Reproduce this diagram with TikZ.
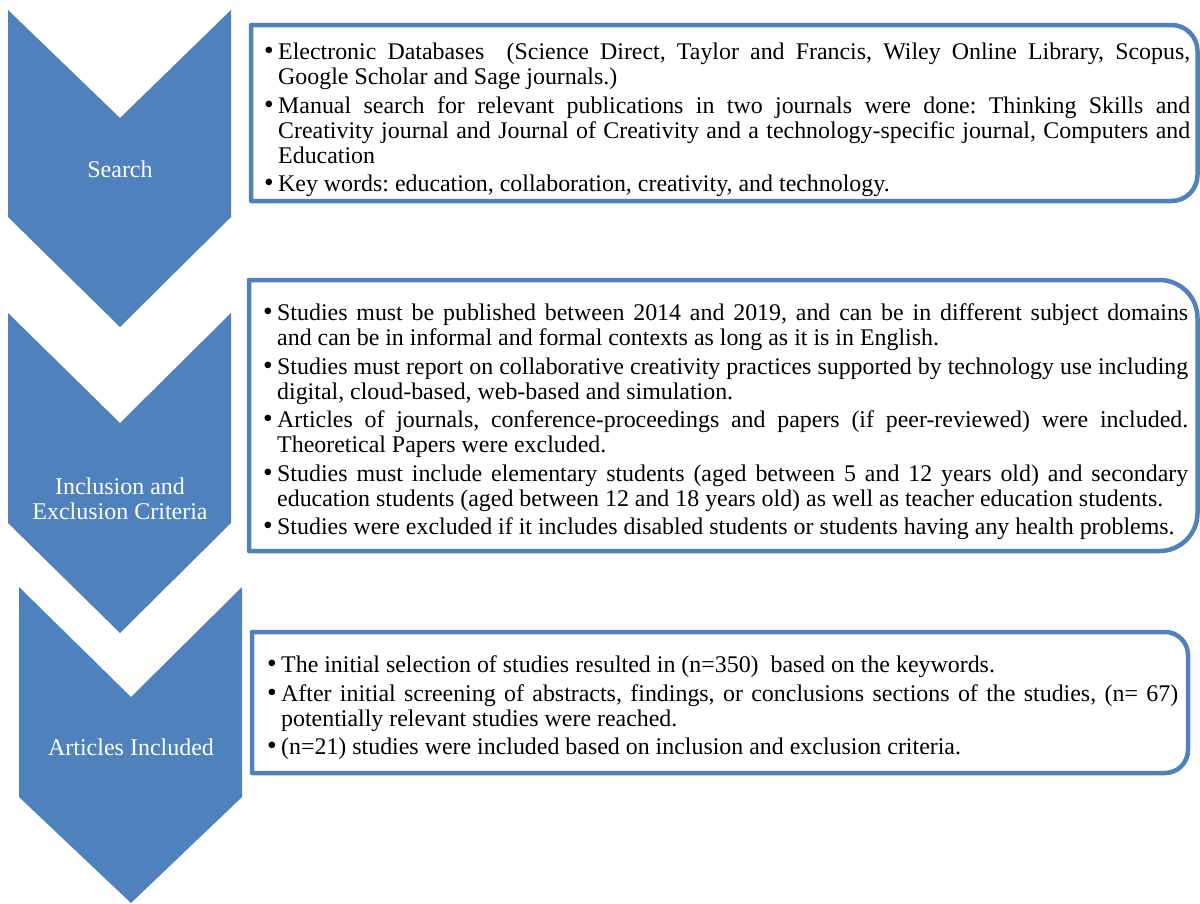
\documentclass[tikz,border=0pt]{standalone}
\usepackage{fontspec}
\setmainfont{Liberation Serif}
\usepackage{graphicx}
\usepackage{xcolor}
\definecolor{chevblue}{HTML}{4F81BD}

% one bullet entry with hanging lines
\newcommand{\bitem}{\par\hangindent=14pt\hangafter=1\noindent
  \makebox[14pt][l]{\scalebox{1.15}{\textbullet}}}
% frame with sharp left and round right corners: x1,y1,x2,y2,radius
\newcommand{\halfroundframe}[5]{%
  \draw[frameline] (#1,#2) -- (#3-#5,#2) arc[start angle=90,end angle=0,radius=#5pt]
    -- (#3,#4-#5) arc[start angle=0,end angle=-90,radius=#5pt] -- (#1,#4) -- cycle;}

\begin{document}
\begin{tikzpicture}[x=1pt,y=-1pt,line join=round,
  chevron/.style={fill=chevblue,draw=none},
  steplabel/.style={text=white,font=\fontsize{24}{25}\selectfont,align=center,inner sep=0pt},
  frameline/.style={draw=chevblue,line width=4.5pt},
  listtext/.style={anchor=west,text width=#1,align=justify,inner sep=0pt,
    font=\fontsize{23.9}{25}\selectfont,
    execute at begin node={\setlength{\parskip}{3.5pt}\frenchspacing\hyphenpenalty=10000\tolerance=9999}}]
\useasboundingbox[fill=white] (0,0) rectangle (1200,903);

% chevrons
\fill[chevron] (8,10) -- (120,118) -- (231,10) -- (231,217) -- (120,327) -- (8,217) -- cycle;
\fill[chevron] (8,313) -- (120,423) -- (231,313) -- (231,523) -- (120,633) -- (8,523) -- cycle;
\fill[chevron] (19,587) -- (131,697) -- (242,587) -- (242,797) -- (131,903) -- (19,797) -- cycle;
\node[steplabel,anchor=base] (search) at (120,177) {Search};
\node[steplabel] (criteria) at (120,499) {Inclusion and\\Exclusion Criteria};
\node[steplabel,anchor=base] (included) at (131,755) {Articles Included};

% frames
\halfroundframe{251}{25}{1197.5}{201}{26}
\halfroundframe{249}{280}{1197.5}{551}{38}
\halfroundframe{252}{632}{1188}{773}{23}

\node[listtext=926pt] (search-list) at (264,114) {%
\bitem Electronic Databases\ \ (Science Direct, Taylor and Francis, Wiley Online Library, Scopus,\linebreak
Google Scholar and Sage journals.)
\bitem Manual search for relevant publications in two journals were done: Thinking Skills and\linebreak
Creativity journal and Journal of Creativity and a technology-specific journal, Computers and\linebreak
Education
\bitem Key words: education, collaboration, creativity, and technology.};

\node[listtext=925pt] (criteria-list) at (263,416) {%
\bitem Studies must be published between 2014 and 2019, and can be in different subject domains\linebreak
and can be in informal and formal contexts as long as it is in English.
\bitem Studies must report on collaborative creativity practices supported by technology use including\linebreak
digital, cloud-based, web-based and simulation.
\bitem Articles of journals, conference-proceedings and papers (if peer-reviewed) were included.\linebreak
Theoretical Papers were excluded.
\bitem Studies must include elementary students (aged between 5 and 12 years old) and secondary\linebreak
education students (aged between 12 and 18 years old) as well as teacher education students.
\bitem Studies were excluded if it includes disabled students or students having any health problems.};

\node[listtext=911pt] (included-list) at (267,702) {%
\bitem The initial selection of studies resulted in (n=350)\ \ based on the keywords.
\bitem After initial screening of abstracts, findings, or conclusions sections of the studies, (n=~67)\linebreak
potentially relevant studies were reached.
\bitem (n=21) studies were included based on inclusion and exclusion criteria.};
\end{tikzpicture}
\end{document}
